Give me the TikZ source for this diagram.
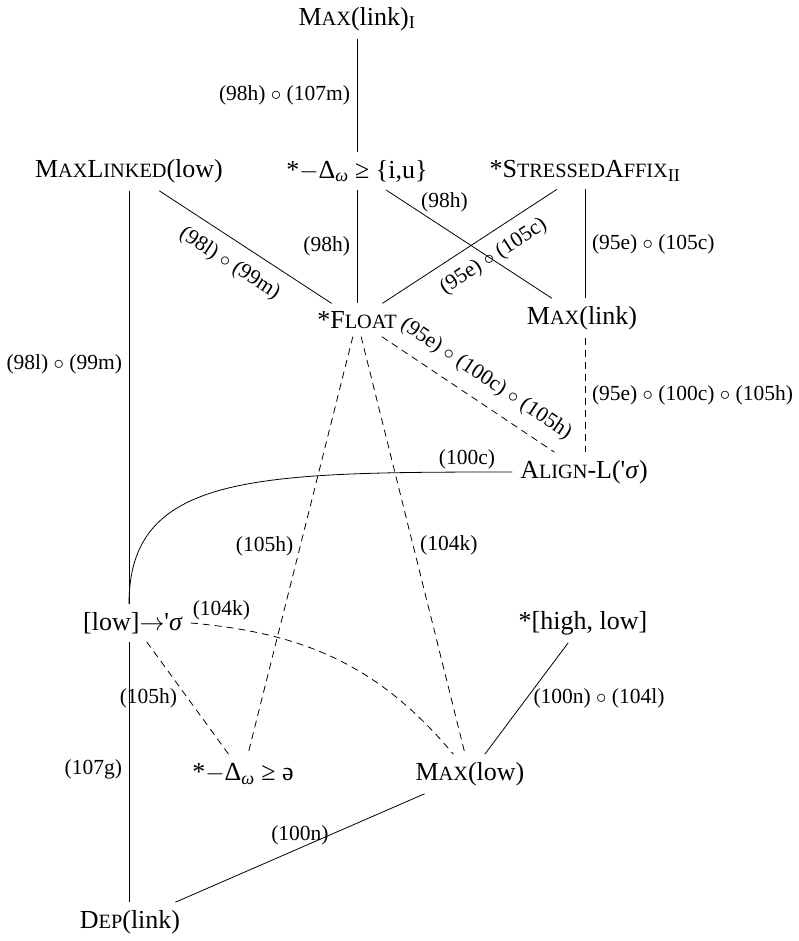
\documentclass[tikz,border=0pt]{standalone}
\usepackage{fontspec}
\setmainfont{Liberation Serif}
\usetikzlibrary{calc}
\newcommand\fsc[1]{{\fontsize{20.3}{24}\selectfont #1}}
\tikzset{
  nd/.style={font=\fontsize{26}{31}\selectfont, inner sep=3pt, outer sep=5pt, anchor=center},
  lb/.style={font=\fontsize{21.5}{26}\selectfont, inner xsep=7pt, inner ysep=3pt, outer sep=0pt},
  slb/.style={lb, sloped, inner ysep=13pt},
  ln/.style={line width=0.8pt},
  dl/.style={line width=0.8pt, dash pattern=on 7pt off 5pt}
}
\begin{document}
\begin{tikzpicture}[x=1pt,y=-1pt]
\useasboundingbox (0,0) rectangle (798,941);
% nodes
\node[nd] (mli) at (357,19) {M\fsc{AX}(link)\textsubscript{I}};
\node[nd] (ml) at (129,171) {M\fsc{AX}L\fsc{INKED}(low)};
\node[nd] (diu) at (357,171) {*$-$Δ\textsubscript{\textit{ω}} ≥ \{i,u\}};
\node[nd] (sa) at (585,171) {*S\fsc{TRESSED}A\fsc{FFIX}\textsubscript{II}};
\node[nd] (fl) at (357,320) {*F\fsc{LOAT}};
\node[nd] (mlk) at (582,318) {M\fsc{AX}(link)};
\node[nd] (al) at (584,472) {A\fsc{LIGN}-L(\textquotesingle\textit{σ})};
\node[nd] (low) at (133,623) {[low]$\to$\textquotesingle\textit{σ}};
\node[nd] (hl) at (583,623) {*[high, low]};
\node[nd] (dsw) at (243,774) {*$-$Δ\textsubscript{\textit{ω}} ≥ ə};
\node[nd] (mlow) at (470,774) {M\fsc{AX}(low)};
\node[nd] (dep) at (130,922) {D\fsc{EP}(link)};
% connectors
\draw[ln] (mli) -- node[lb,left]{(98h) $\circ$ (107m)} (diu);
\draw[ln] (ml) -- node[lb,left,pos=0.42]{(98l) $\circ$ (99m)} (ml |- low.north);
\draw[ln] (ml |- low.south) -- node[lb,left,pos=0.49]{(107g)} (ml |- dep.north);
\draw[ln] (al.west) .. controls +(-260,0) and +(0,-130) .. (ml |- low.north)
   node[lb,pos=0.06,above]{(100c)};
\draw[ln] (ml) -- node[slb,below,pos=0.48]{(98l) $\circ$ (99m)} (fl);
\draw[ln] (diu) -- node[lb,left]{(98h)} (fl);
\draw[ln] (diu) -- node[lb,above right,pos=0.2,inner xsep=2pt,inner ysep=0pt]{(98h)} (mlk);
\draw[ln] (sa) -- node[slb,below,pos=0.43,inner ysep=12pt]{(95e) $\circ$ (105c)} (fl);
\draw[ln] (sa) -- node[lb,right]{(95e) $\circ$ (105c)} (sa |- mlk.north);
\draw[dl] (fl) -- node[slb,above,pos=0.53]{(95e) $\circ$ (100c) $\circ$ (105h)} (al);
\draw[dl] (sa |- mlk.south) -- node[lb,right]{(95e) $\circ$ (100c) $\circ$ (105h)} (sa |- al.north);
\draw[dl] (fl) -- node[lb,left]{(105h)} (dsw);
\draw[dl] (fl) -- node[lb,right]{(104k)} (mlow);
\draw[dl] (low.east) to[out=-5,in=130] node[lb,pos=0,above right,inner xsep=2pt]{(104k)} (mlow.130);
\draw[dl] (low) -- node[lb,left,xshift=-4pt]{(105h)} (dsw);
\draw[ln] (hl) -- node[lb,right]{(100n) $\circ$ (104l)} (mlow);
\draw[ln] (mlow) -- node[lb,above]{(100n)} (dep);
\end{tikzpicture}
\end{document}
